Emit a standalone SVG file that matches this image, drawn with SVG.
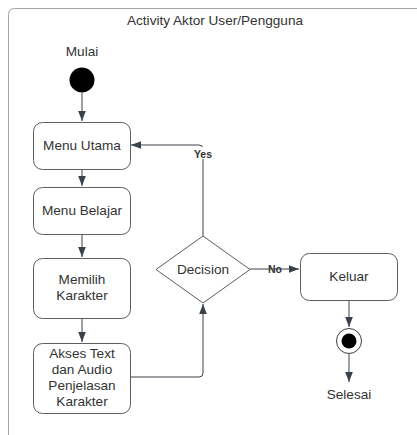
<svg xmlns="http://www.w3.org/2000/svg" width="417" height="435" viewBox="0 0 417 435">
  <defs>
    <marker id="arrow" viewBox="0 0 10 10" refX="10" refY="5" markerWidth="10" markerHeight="10" markerUnits="userSpaceOnUse" orient="auto">
      <path d="M0,1.2 L10,5 L0,8.8 Z" fill="#3a414a"/>
    </marker>
    <style>
      text { font-family: "Liberation Sans", Arial, sans-serif; fill: #333333; }
      .lbl { font-size: 13.6px; text-anchor: middle; }
      .title { font-size: 13.6px; text-anchor: middle; }
      .edge-lbl { font-size: 10.5px; font-weight: bold; text-anchor: middle; fill: #333333; }
      .box { fill: #ffffff; stroke: #5e5e5e; stroke-width: 1; }
      .conn { fill: none; stroke: #3a414a; stroke-width: 1; marker-end: url(#arrow); }
    </style>
  </defs>

  <rect width="417" height="435" fill="#ffffff"/>

  <!-- activity frame -->
  <g id="frame">
    <path d="M8.5,440 L8.5,14.5 Q8.5,8.5 14.5,8.5 L425,8.5" fill="none" stroke="#a3a3a3" stroke-width="1"/>
    <text class="title" x="215" y="25">Activity Aktor User/Pengguna</text>
  </g>

  <!-- connectors -->
  <g id="connectors">
    <line class="conn" x1="82" y1="93" x2="82" y2="121"/>
    <line class="conn" x1="82" y1="169" x2="82" y2="186"/>
    <line class="conn" x1="82" y1="234" x2="82" y2="257"/>
    <line class="conn" x1="82" y1="318" x2="82" y2="342"/>
    <path class="conn" d="M130,377 L199,377 Q203,377 203,373 L203,304"/>
    <path class="conn" d="M203,236 L203,149 Q203,145 199,145 L131,145"/>
    <rect x="190" y="147" width="26" height="12" fill="#ffffff"/>
    <text class="edge-lbl" x="203" y="158">Yes</text>
    <line class="conn" x1="250" y1="269" x2="299" y2="269"/>
    <text class="edge-lbl" x="275" y="273">No</text>
    <line class="conn" x1="349" y1="300" x2="349" y2="327"/>
    <line class="conn" x1="349" y1="354" x2="349" y2="382"/>
  </g>

  <g id="start">
    <text class="lbl" x="82" y="56">Mulai</text>
    <circle cx="82" cy="80" r="12.5" fill="#000000"/>
  </g>

  <g id="menu-utama">
    <rect class="box" x="33.5" y="122.5" width="97" height="47" rx="9"/>
    <text class="lbl" x="82" y="150">Menu Utama</text>
  </g>

  <g id="menu-belajar">
    <rect class="box" x="33.5" y="187.5" width="97" height="47" rx="9"/>
    <text class="lbl" x="82" y="215">Menu Belajar</text>
  </g>

  <g id="memilih-karakter">
    <rect class="box" x="33.5" y="258.5" width="97" height="60" rx="9"/>
    <text class="lbl" x="82" y="284">Memilih</text>
    <text class="lbl" x="82" y="300">Karakter</text>
  </g>

  <g id="akses-text">
    <rect class="box" x="33.5" y="343.5" width="97" height="70" rx="9"/>
    <text class="lbl" x="82" y="358">Akses Text</text>
    <text class="lbl" x="82" y="374">dan Audio</text>
    <text class="lbl" x="82" y="390">Penjelasan</text>
    <text class="lbl" x="82" y="406">Karakter</text>
  </g>

  <g id="decision">
    <path class="box" d="M203,236 L250,269.5 L203,303 L156,269.5 Z"/>
    <text class="lbl" x="203" y="274">Decision</text>
  </g>

  <g id="keluar">
    <rect class="box" x="300.5" y="253.5" width="97" height="47" rx="9"/>
    <text class="lbl" x="349" y="281">Keluar</text>
  </g>

  <g id="end">
    <circle cx="349" cy="341" r="12.5" fill="#ffffff" stroke="#3a414a" stroke-width="1"/>
    <circle cx="349" cy="341" r="7.5" fill="#000000"/>
    <text class="lbl" x="349" y="399">Selesai</text>
  </g>
</svg>
